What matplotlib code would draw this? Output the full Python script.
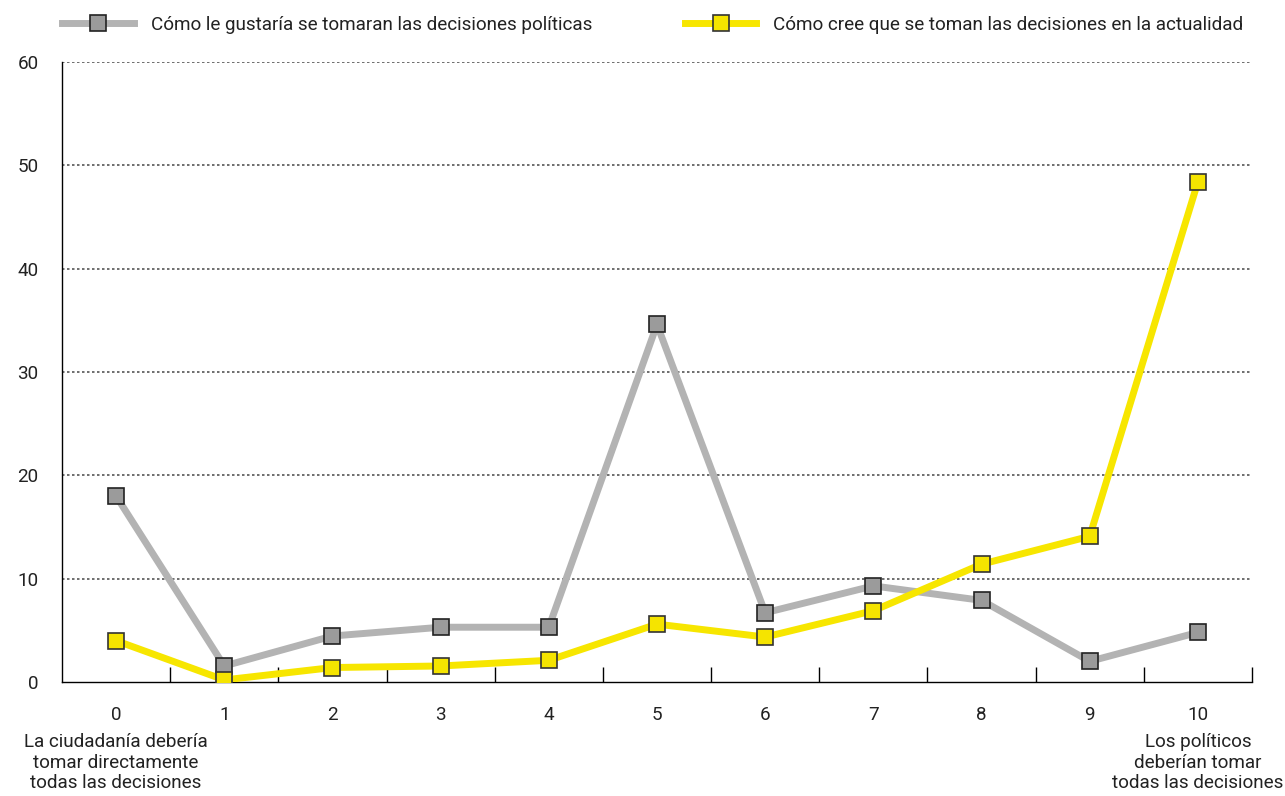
import matplotlib.pyplot as plt
import numpy as np
from matplotlib.ticker import FixedLocator

plt.rcParams['font.family'] = ['Roboto', 'DejaVu Sans']

# data
scale = list(range(11))
gustaria = [18.0, 1.55, 4.45, 5.3, 5.3, 34.6, 6.7, 9.3, 7.9, 2.0, 4.8]
actualidad = [4.0, 0.2, 1.4, 1.55, 2.1, 5.6, 4.35, 6.9, 11.4, 14.1, 48.4]
label_gustaria = "Cómo le gustaría se tomaran las decisiones políticas"
label_actualidad = "Cómo cree que se toman las decisiones en la actualidad"
left_note = "La ciudadanía debería\ntomar directamente\ntodas las decisiones"
right_note = "Los políticos\ndeberían tomar\ntodas las decisiones"
yticks = [0, 10, 20, 30, 40, 50, 60]

fs = 13.6
fig = plt.figure(figsize=(12.85, 7.96), dpi=100)
ax = fig.add_axes([62 / 1285, 1 - 682 / 796, (1252 - 62) / 1285, (682 - 62) / 796])

for y in yticks[1:]:
    ax.axhline(y, color="#555555", lw=1.2, ls=(0, (1.5, 1.5)), zorder=1)

ax.plot(scale, gustaria, color="#b3b3b3", lw=5, marker="s", ms=11.5,
        mfc="#9b9b9b", mec="#222222", mew=1.2, label=label_gustaria, zorder=3)
ax.plot(scale, actualidad, color="#f7e600", lw=5, marker="s", ms=11.5,
        mfc="#f5e400", mec="#333333", mew=1.2, label=label_actualidad, zorder=3)

ax.set_xlim(-0.5, 10.5)
ax.set_ylim(0, 60)
ax.set_yticks(yticks)
ax.set_xticks(scale)
ax.xaxis.set_minor_locator(FixedLocator(np.arange(0.5, 11, 1)))
ax.tick_params(axis="x", which="major", length=0, pad=17, labelsize=fs, labelcolor="#222222")
ax.tick_params(axis="x", which="minor", direction="in", length=11, width=1, color="black")
ax.tick_params(axis="y", length=0, pad=17, labelsize=fs, labelcolor="#222222")
for s in ["top", "right"]:
    ax.spines[s].set_visible(False)
for s in ["left", "bottom"]:
    ax.spines[s].set_linewidth(1)

ax.text(0, -0.083, left_note, transform=ax.get_xaxis_transform(), ha="center", va="top",
        fontsize=fs, color="#222222", linespacing=1.15)
ax.text(10, -0.083, right_note, transform=ax.get_xaxis_transform(), ha="center", va="top",
        fontsize=fs, color="#222222", linespacing=1.15)

ax.legend(loc="lower left", bbox_to_anchor=(0, 1.045), ncol=2, frameon=False, fontsize=fs,
          handlelength=3.8, handletextpad=0.9, columnspacing=4.9, borderpad=0, borderaxespad=0,
          labelcolor="#222222")

fig.savefig("out.png", dpi=100)
